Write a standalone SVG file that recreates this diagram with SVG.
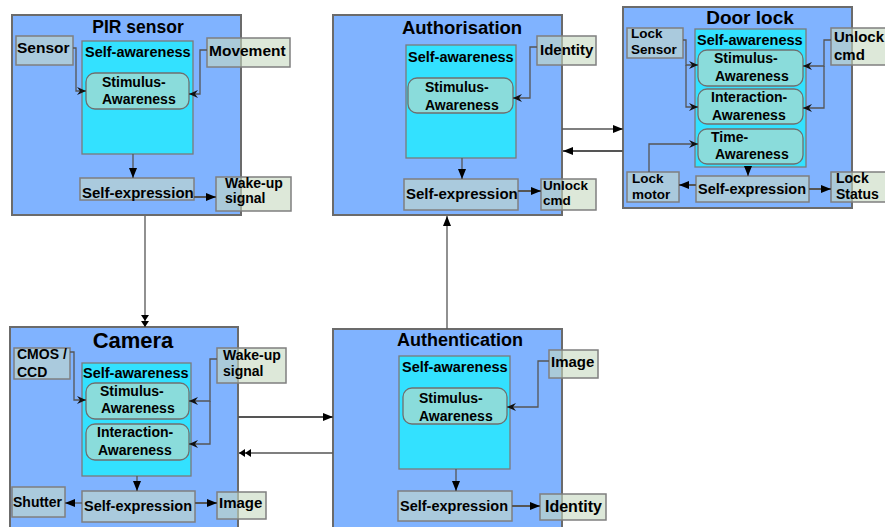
<svg xmlns="http://www.w3.org/2000/svg" width="885" height="527" viewBox="0 0 885 527">
<style>
text{font-family:"Liberation Sans",Arial,sans-serif;font-weight:bold;fill:#000}
.outer{fill:#80b3ff;stroke:#6b6b6b;stroke-width:2}
.sa{fill:#33e1ff;stroke:#7a7a7a;stroke-width:1.3}
.aw{fill:#8adcdb;stroke:#6f6f6f;stroke-width:1.3}
.lbl{fill:#c7d8c0;fill-opacity:0.6;stroke:#7f7f7f;stroke-width:1.5}
.se{fill:#aacadd;stroke:#7f7f7f;stroke-width:1.5}
.t{text-anchor:middle}
.f13{font-size:13.5px}
.f14{font-size:14px}
.f145{font-size:14.5px}
.f15{font-size:15px}
.f155{font-size:15.5px}
.c{fill:none;stroke:#555;stroke-width:1.3}
.ck{fill:none;stroke:#555;stroke-width:2}
.b{marker-end:url(#barb)}
.a{marker-end:url(#tri)}
.d{marker-end:url(#dbl)}
</style>
<defs>
<marker id="tri" markerUnits="userSpaceOnUse" viewBox="0 0 10 8" markerWidth="10" markerHeight="8" refX="10" refY="4" orient="auto"><path d="M0,0 L10,4 L0,8 z" fill="#000"/></marker>
<marker id="barb" markerUnits="userSpaceOnUse" viewBox="0 0 9 8" markerWidth="9" markerHeight="8" refX="9" refY="4" orient="auto"><path d="M0,0 L9,4 L0,8 L3,4 z" fill="#111"/></marker>
<marker id="dbl" markerUnits="userSpaceOnUse" viewBox="0 0 12 8" markerWidth="12" markerHeight="8" refX="12" refY="4" orient="auto"><path d="M0,0 L6,4 L0,8 z M6,0 L12,4 L6,8 z" fill="#000"/></marker>
</defs>

<g id="pir-sensor">
<rect class="outer" x="12" y="15" width="229" height="200"/>
<text class="t" x="138" y="33" font-size="17.5">PIR sensor</text>
<rect class="se" x="16" y="36" width="57" height="29"/>
<text class="f155" x="17" y="53">Sensor</text>
<rect class="sa" x="82" y="41" width="111" height="113"/>
<text class="f145" x="85" y="57">Self-awareness</text>
<rect class="aw" x="86" y="73" width="103" height="36" rx="9"/>
<text class="f14" x="102" y="87">Stimulus-</text>
<text class="f14" x="102" y="104">Awareness</text>
<rect class="lbl" x="207" y="38" width="83" height="29"/>
<text class="f155" x="209" y="56">Movement</text>
<rect class="se" x="80" y="178" width="114" height="22"/>
<text class="f15" x="82" y="198">Self-expression</text>
<rect class="lbl" x="216" y="177" width="75" height="34"/>
<text class="f14" x="225" y="188">Wake-up</text>
<text class="f14" x="225" y="203">signal</text>
</g>

<g id="authorisation">
<rect class="outer" x="333" y="15" width="229" height="200"/>
<text class="t" x="462" y="34" font-size="18.5">Authorisation</text>
<rect class="sa" x="406" y="45" width="110" height="113"/>
<text class="f145" x="408" y="62">Self-awareness</text>
<rect class="aw" x="408" y="78" width="105" height="35" rx="9"/>
<text class="f14" x="425" y="92">Stimulus-</text>
<text class="f14" x="425" y="110">Awareness</text>
<rect class="lbl" x="537" y="36" width="59" height="29"/>
<text class="f15" x="540" y="55">Identity</text>
<rect class="se" x="404" y="179" width="114" height="31"/>
<text class="f15" x="406" y="199">Self-expression</text>
<rect class="lbl" x="541" y="179" width="55" height="31"/>
<text class="f13" x="543" y="190">Unlock</text>
<text class="f13" x="543" y="205">cmd</text>
</g>

<g id="door-lock">
<rect class="outer" x="623" y="7" width="229" height="201"/>
<text class="t" x="750" y="24" font-size="19">Door lock</text>
<rect class="sa" x="695" y="29" width="111" height="138"/>
<text class="f145" x="697" y="45">Self-awareness</text>
<rect class="aw" x="698" y="50" width="105" height="36" rx="9"/>
<text class="f14" x="714" y="63">Stimulus-</text>
<text class="f14" x="715" y="81">Awareness</text>
<rect class="aw" x="698" y="89" width="105" height="35" rx="9"/>
<text class="f14" x="711" y="102">Interaction-</text>
<text class="f14" x="712" y="120">Awareness</text>
<rect class="aw" x="698" y="129" width="105" height="35" rx="9"/>
<text class="f14" x="711" y="142">Time-</text>
<text class="f14" x="715" y="159">Awareness</text>
<rect class="se" x="627" y="28" width="56" height="30"/>
<text class="f13" x="631" y="38">Lock</text>
<text class="f13" x="631" y="54">Sensor</text>
<rect class="lbl" x="831" y="28" width="56" height="37"/>
<text class="f15" x="834" y="42">Unlock</text>
<text class="f15" x="834" y="60">cmd</text>
<rect class="se" x="627" y="172" width="52" height="30"/>
<text class="f13" x="632" y="183">Lock</text>
<text class="f13" x="632" y="199">motor</text>
<rect class="se" x="696" y="176" width="113" height="26"/>
<text class="f145" x="698" y="194">Self-expression</text>
<rect class="lbl" x="831" y="172" width="56" height="30"/>
<text class="f14" x="836" y="183">Lock</text>
<text class="f14" x="836" y="199">Status</text>
</g>

<g id="camera">
<rect class="outer" x="10" y="327" width="228" height="212"/>
<text class="t" x="133" y="348" font-size="22">Camera</text>
<rect class="se" x="14" y="348" width="56" height="31"/>
<text class="f14" x="17" y="359">CMOS /</text>
<text class="f14" x="17" y="377">CCD</text>
<rect class="lbl" x="217" y="348" width="69" height="35"/>
<text class="f14" x="223" y="360">Wake-up</text>
<text class="f14" x="223" y="376">signal</text>
<rect class="sa" x="82" y="363" width="109" height="113"/>
<text class="f145" x="83" y="378">Self-awareness</text>
<rect class="aw" x="86" y="383" width="103" height="36" rx="9"/>
<text class="f14" x="100" y="396">Stimulus-</text>
<text class="f14" x="101" y="413">Awareness</text>
<rect class="aw" x="86" y="424" width="103" height="36" rx="9"/>
<text class="f14" x="97" y="437">Interaction-</text>
<text class="f14" x="98" y="455">Awareness</text>
<rect class="se" x="82" y="491" width="113" height="31"/>
<text class="f145" x="84" y="511">Self-expression</text>
<rect class="se" x="12" y="487" width="53" height="30"/>
<text class="f14" x="13" y="507">Shutter</text>
<rect class="lbl" x="217" y="492" width="49" height="27"/>
<text class="f15" x="219" y="508">Image</text>
</g>

<g id="authentication">
<rect class="outer" x="333" y="329" width="229" height="210"/>
<text class="t" x="460" y="346" font-size="18">Authentication</text>
<rect class="sa" x="399" y="356" width="111" height="113"/>
<text class="f145" x="402" y="372">Self-awareness</text>
<rect class="aw" x="403" y="388" width="104" height="36" rx="9"/>
<text class="f14" x="419" y="403">Stimulus-</text>
<text class="f14" x="419" y="421">Awareness</text>
<rect class="lbl" x="549" y="350" width="49" height="28"/>
<text class="f15" x="551" y="367">Image</text>
<rect class="se" x="398" y="491" width="114" height="30"/>
<text class="f145" x="400" y="511">Self-expression</text>
<rect class="lbl" x="540" y="494" width="66" height="26"/>
<text x="545" y="512" font-size="16">Identity</text>
</g>

<g id="connectors">
<path class="c b" d="M73,48 H76 V91 H86"/>
<path class="c b" d="M207,50 H200 V94 H189"/>
<path class="c a" d="M133,154 V178"/>
<path class="ck a" d="M194,197 H216"/>
<path class="c b" d="M537,47 H530 V98 H513"/>
<path class="c a" d="M462,158 V179"/>
<path class="ck a" d="M518,191 H541"/>
<path class="c b" d="M683,40 H686 V65 H698"/>
<path class="c b" d="M686,65 V107 H698"/>
<path class="c b" d="M831,40 H824 V66 H803"/>
<path class="c b" d="M824,66 V108 H803"/>
<path class="c b" d="M649,172 V144 H698"/>
<path class="c a" d="M748,167 V176"/>
<path class="ck a" d="M696,185 H679"/>
<path class="ck a" d="M809,189 H831"/>
<path class="c b" d="M70,352 H74 V400 H86"/>
<path class="c b" d="M217,359 H210 V401 H189"/>
<path class="c b" d="M210,401 V444 H189"/>
<path class="c a" d="M137,476 V491"/>
<path class="c a" d="M82,503 H65"/>
<path class="ck a" d="M195,503 H217"/>
<path class="c b" d="M549,361 H538 V407 H507"/>
<path class="c a" d="M456,469 V491"/>
<path class="ck a" d="M512,506 H540"/>
<path class="c d" d="M145,216 V327"/>
<path class="c a" d="M447,329 V216"/>
<path class="c a" d="M562,129 H623"/>
<path class="ck a" d="M623,151 H563"/>
<path class="ck a" d="M238,417 H333"/>
<path class="c d" d="M333,453 H239"/>
</g>
</svg>
